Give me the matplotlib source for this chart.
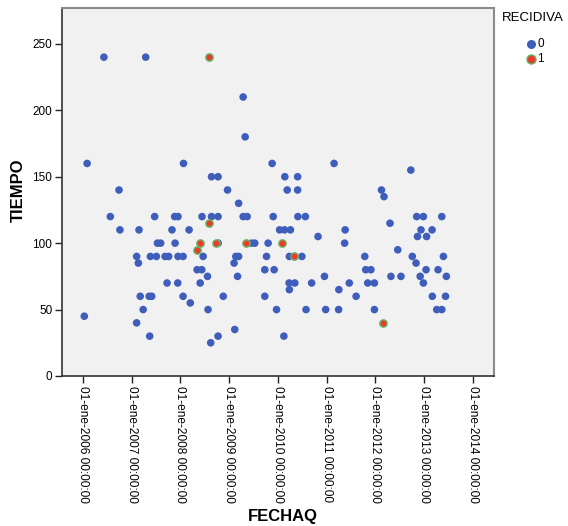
import matplotlib
matplotlib.use("Agg")
import matplotlib.pyplot as plt
import pandas as pd
from matplotlib.lines import Line2D

plt.rcParams['font.family'] = ['Liberation Sans', 'DejaVu Sans']

# RECIDIVA = 0
fecha_0 = [
    "2006-01-11", "2006-02-01", "2006-06-07", "2006-07-25", "2006-09-28", "2006-10-05",
    "2007-02-07", "2007-02-20", "2007-02-07", "2007-02-25", "2007-03-06", "2007-03-28",
    "2007-04-16", "2007-05-16", "2007-05-12", "2007-05-31", "2007-05-21", "2007-06-22",
    "2007-07-05", "2007-07-13", "2007-08-06", "2007-09-08", "2007-10-05", "2007-09-23",
    "2007-10-30", "2007-11-22", "2007-11-19", "2007-12-14", "2007-12-14", "2007-12-12",
    "2008-01-21", "2008-01-21", "2008-01-24", "2008-03-06", "2008-03-15", "2008-05-05",
    "2008-06-09", "2008-06-11", "2008-06-19", "2008-05-28", "2008-07-22", "2008-07-26",
    "2008-08-21", "2008-10-09", "2008-08-21", "2008-10-09", "2008-10-10", "2008-08-15",
    "2008-10-09", "2008-11-17", "2008-12-19", "2009-02-06", "2009-02-19", "2009-03-12",
    "2009-03-04", "2009-02-11", "2009-03-12", "2009-04-15", "2009-05-15", "2009-04-15",
    "2009-04-30", "2009-06-17", "2009-07-11", "2009-09-24", "2009-12-03", "2009-09-24",
    "2009-10-07", "2009-10-19", "2009-11-18", "2009-11-26", "2009-12-21", "2010-01-13",
    "2010-02-19", "2010-04-04", "2010-02-21", "2010-05-28", "2010-03-11", "2010-05-28",
    "2010-05-30", "2010-07-25", "2010-03-27", "2010-06-29", "2010-03-25", "2010-05-07",
    "2010-03-27", "2010-02-14", "2010-07-30", "2010-09-10", "2010-10-28", "2010-12-15",
    "2010-12-24", "2011-02-25", "2011-04-02", "2011-03-31", "2011-05-19", "2011-05-15",
    "2011-06-19", "2011-08-09", "2011-10-13", "2011-10-20", "2011-11-28", "2011-11-04",
    "2011-12-24", "2011-12-24", "2012-02-15", "2012-03-05", "2012-04-19", "2012-04-26",
    "2012-06-16", "2012-07-10", "2012-09-22", "2012-10-03", "2012-10-31", "2012-11-05",
    "2012-12-25", "2012-11-11", "2012-12-07", "2013-01-18", "2012-12-01", "2012-12-25",
    "2013-01-14", "2013-02-28", "2013-03-02", "2013-04-04", "2013-05-12", "2013-04-14",
    "2013-05-12", "2013-05-24", "2013-06-09", "2013-06-15",
]
tiempo_0 = [
    45, 160, 240, 120, 140, 110,
    90, 85, 40, 110, 60, 50,
    240, 30, 60, 60, 90, 120,
    90, 100, 100, 90, 90, 70,
    110, 100, 120, 120, 90, 70,
    90, 60, 160, 110, 55, 80,
    80, 120, 90, 70, 75, 50,
    150, 150, 120, 120, 100, 25,
    30, 60, 140, 85, 90, 90,
    75, 35, 130, 120, 120, 210,
    180, 100, 100, 80, 80, 60,
    90, 100, 160, 120, 50, 110,
    110, 110, 150, 150, 140, 140,
    120, 120, 90, 90, 70, 70,
    65, 30, 50, 70, 105, 75,
    50, 160, 65, 50, 110, 100,
    70, 60, 90, 80, 80, 70,
    70, 50, 140, 135, 115, 75,
    95, 75, 155, 90, 85, 120,
    120, 105, 110, 105, 75, 70,
    80, 110, 60, 50, 50, 80,
    120, 90, 60, 75,
]

# RECIDIVA = 1
fecha_1 = ["2008-08-01", "2008-08-05", "2008-05-26", "2008-05-07", "2008-09-21",
           "2009-05-07", "2010-02-03", "2010-05-04", "2012-02-23"]
tiempo_1 = [240, 115, 100, 95, 100, 100, 100, 90, 40]

year_ticks = ["2006-01-01", "2007-01-01", "2008-01-01", "2009-01-01", "2010-01-01",
              "2011-01-01", "2012-01-01", "2013-01-01", "2014-01-01"]
y_ticks = [0, 50, 100, 150, 200, 250]
legend_labels = ['0', '1']

blue = '#3F5EBB'
red = '#EC3A2E'
green_edge = '#62B862'

W, H = 568, 526
fig = plt.figure(figsize=(W / 100, H / 100), dpi=100)
ax = fig.add_axes([62 / W, 1 - 376 / H, (494 - 62) / W, (376 - 8) / H])
ax.set_facecolor('#F1F1F1')

x0 = pd.to_datetime(fecha_0)
x1 = pd.to_datetime(fecha_1)
ax.scatter(x0, tiempo_0, s=30, color=blue, edgecolors='none', zorder=3)
ax.scatter(x1, tiempo_1, s=28, color=red, edgecolors=green_edge, linewidths=1.0, zorder=4)

ax.set_xlim(pd.Timestamp("2005-07-28"), pd.Timestamp("2014-06-07"))
ax.set_ylim(0, 277)

ax.set_xticks(pd.to_datetime(year_ticks))
ax.set_xticklabels([f"01-ene-{t[:4]} 00:00:00" for t in year_ticks],
                   rotation=-90, fontsize=8.6, va='top', ha='center')
ax.set_yticks(y_ticks)
ax.set_yticklabels([str(v) for v in y_ticks], fontsize=8.5)
ax.tick_params(axis='both', direction='out', length=5, width=1, color='#222222', pad=2)

for s in ['left', 'bottom']:
    ax.spines[s].set_color('#333333')
    ax.spines[s].set_linewidth(1.2)
for s in ['top', 'right']:
    ax.spines[s].set_color('#8A8A8A')
    ax.spines[s].set_linewidth(1.5)

fig.text(18 / W, 1 - 190 / H, 'TIEMPO', fontsize=12, fontweight='bold',
         rotation=90, ha='center', va='center')
fig.text(283 / W, 1 - 516 / H, 'FECHAQ', fontsize=12, fontweight='bold',
         ha='center', va='center')

# legend (drawn in figure pixels)
fig.text(533 / W, 1 - 18 / H, 'RECIDIVA', fontsize=9.5, ha='center', va='center')
styles = [dict(markerfacecolor=blue, markeredgecolor='none'),
          dict(markerfacecolor=red, markeredgecolor=green_edge, markeredgewidth=1.0)]
for i, (lab, st) in enumerate(zip(legend_labels, styles)):
    yy = 1 - (44 + 15 * i) / H
    fig.add_artist(Line2D([531 / W], [yy], marker='o', linestyle='none',
                          markersize=6.5, transform=fig.transFigure, **st))
    fig.text(537 / W, yy, lab, fontsize=8.5, ha='left', va='center')

fig.savefig('out.png', dpi=100, facecolor='white')
